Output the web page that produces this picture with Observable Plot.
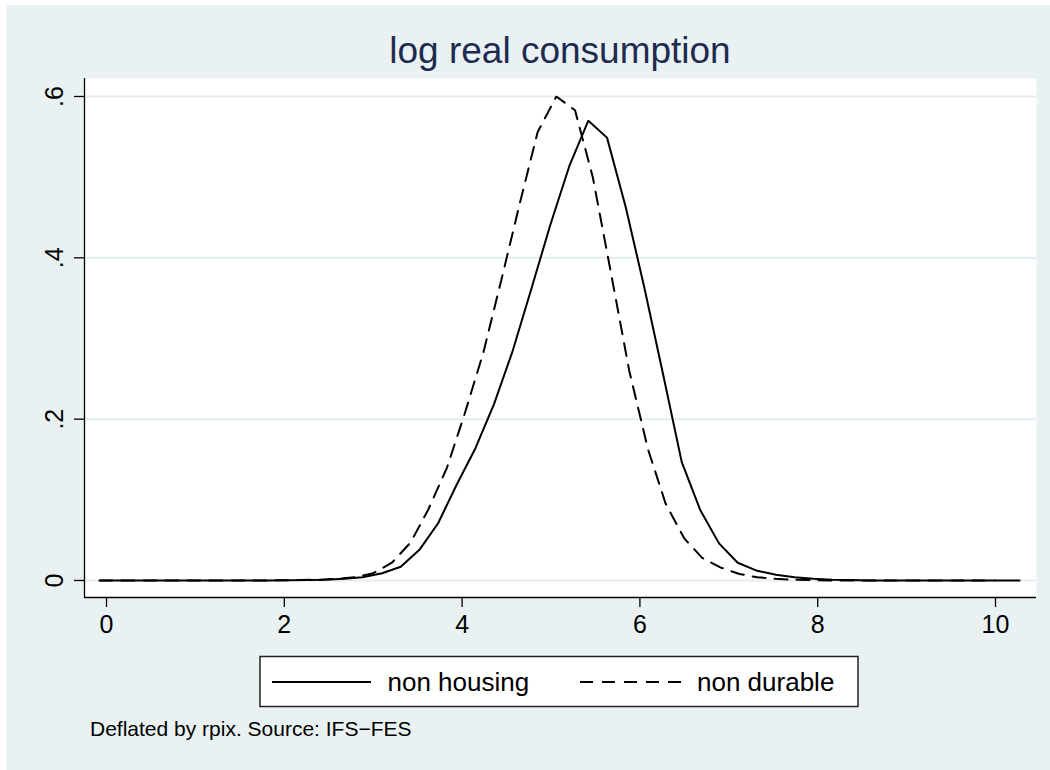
<!DOCTYPE html>
<html><head><meta charset="utf-8">
<script src="https://cdn.jsdelivr.net/npm/d3@7"></script>
<script src="https://cdn.jsdelivr.net/npm/@observablehq/plot@0.6"></script>
<style>
html,body{margin:0;padding:0;background:#fff;}
#page{position:relative;width:1050px;height:770px;overflow:hidden;font-family:"Liberation Sans",Arial,sans-serif;}
#bg{position:absolute;left:6px;top:5px;width:1044px;height:765px;background:#eaf1f3;}
#chart{position:absolute;left:0;top:0;}
#overlay{position:absolute;left:0;top:0;pointer-events:none;}
</style></head><body>
<div id="page"><div id="bg"></div><div id="chart"></div><svg id="overlay" width="1050" height="770"></svg></div>
<script>
// ---- data ----
const titleText = "log real consumption";
const captionText = "Deflated by rpix. Source: IFS\u2212FES";
const seriesNames = ["non housing", "non durable"];

const nonHousingX = [-0.07,0.14,0.35,0.56,0.77,0.99,1.20,1.41,1.62,1.83,2.04,2.25,2.46,2.67,2.88,3.10,3.31,3.52,3.73,3.94,4.15,4.36,4.57,4.78,4.99,5.21,5.42,5.63,5.84,6.05,6.26,6.47,6.68,6.89,7.10,7.32,7.53,7.74,7.95,8.16,8.37,8.58,8.79,9.00,9.22,9.43,9.64,9.85,10.06,10.27];
const nonHousingY = [0,0,0,0,0,0,0,0,0,0,0.0003,0.0006,0.001,0.002,0.004,0.009,0.017,0.038,0.071,0.119,0.164,0.219,0.285,0.362,0.440,0.515,0.570,0.549,0.463,0.363,0.256,0.147,0.087,0.046,0.022,0.012,0.007,0.004,0.002,0.001,0.0005,0,0,0,0,0,0,0,0,0];

const nonDurableX = [-0.08,0.13,0.33,0.54,0.74,0.95,1.15,1.36,1.56,1.77,1.98,2.18,2.39,2.59,2.80,3.00,3.21,3.42,3.62,3.83,4.03,4.24,4.44,4.65,4.85,5.06,5.27,5.47,5.68,5.88,6.09,6.29,6.50,6.70,6.91,7.12,7.32,7.53,7.73,7.94,8.14,8.35,8.56,8.76,8.97,9.17,9.38,9.58,9.79,9.99];
const nonDurableY = [0,0,0,0,0,0,0,0,0,0,0.0003,0.0006,0.001,0.002,0.004,0.009,0.022,0.047,0.088,0.140,0.207,0.283,0.372,0.468,0.556,0.600,0.583,0.500,0.378,0.260,0.163,0.095,0.052,0.028,0.016,0.008,0.004,0.002,0.001,0.0005,0,0,0,0,0,0,0,0,0,0];

const xTicks = [0, 2, 4, 6, 8, 10];
const yTicks = [0, 0.2, 0.4, 0.6];
const yTickLabels = ["0", ".2", ".4", ".6"];
const xDomain = [-0.2475, 10.461];
const yDomain = [-0.0211, 0.6223];

// ---- table ----
const table = [
  ...nonHousingX.map((x, i) => ({series: seriesNames[0], x, y: nonHousingY[i]})),
  ...nonDurableX.map((x, i) => ({series: seriesNames[1], x, y: nonDurableY[i]}))
];

const FONT = "Liberation Sans, Arial, Helvetica, sans-serif";
const DASH = "13,9";

const plot = Plot.plot({
  width: 1050,
  height: 650,
  marginLeft: 84,
  marginRight: 14,
  marginTop: 78,
  marginBottom: 53,
  style: {background: "transparent", fontFamily: FONT, color: "#000", overflow: "visible"},
  x: {domain: xDomain, label: null},
  y: {domain: yDomain, label: null},
  marks: [
    Plot.frame({fill: "white", stroke: null}),
    Plot.gridY(yTicks, {stroke: "#e3ecef", strokeOpacity: 1, strokeWidth: 2}),
    Plot.ruleX([xDomain[0]], {stroke: "#000", strokeWidth: 1.3}),
    Plot.ruleY([yDomain[0]], {stroke: "#000", strokeWidth: 1.3}),
    Plot.axisX(xTicks, {label: null, tickSize: 10, tickPadding: 8, fontSize: 25, stroke: "#000", strokeWidth: 1.3, fill: "#000", tickFormat: d => String(d)}),
    Plot.axisY(yTicks, {label: null, tickSize: 10, tickPadding: 12, tickRotate: -90, fontSize: 25, stroke: "#000", strokeWidth: 1.3, fill: "#000", tickFormat: d => yTickLabels[yTicks.indexOf(d)]}),
    Plot.line(table.filter(d => d.series === seriesNames[0]), {x: "x", y: "y", stroke: "#000", strokeWidth: 2, strokeLinejoin: "miter"}),
    Plot.line(table.filter(d => d.series === seriesNames[1]), {x: "x", y: "y", stroke: "#000", strokeWidth: 2, strokeLinejoin: "miter", strokeDasharray: DASH})
  ]
});
document.getElementById("chart").appendChild(plot);

// ---- title, legend, caption ----
const ov = d3.select("#overlay").style("font-family", FONT);
ov.append("text").attr("x", 560).attr("y", 63).attr("text-anchor", "middle")
  .attr("font-size", 37).attr("fill", "#1e2b50").text(titleText);

const lg = ov.append("g");
lg.append("rect").attr("x", 260).attr("y", 656.5).attr("width", 598).attr("height", 50)
  .attr("fill", "#fff").attr("stroke", "#222").attr("stroke-width", 1.5);
lg.append("line").attr("x1", 272).attr("x2", 371).attr("y1", 682).attr("y2", 682)
  .attr("stroke", "#000").attr("stroke-width", 2);
lg.append("text").attr("x", 387.5).attr("y", 691).attr("font-size", 26).attr("fill", "#000").text(seriesNames[0]);
lg.append("line").attr("x1", 580).attr("x2", 681).attr("y1", 682).attr("y2", 682)
  .attr("stroke", "#000").attr("stroke-width", 2).attr("stroke-dasharray", DASH);
lg.append("text").attr("x", 697).attr("y", 691).attr("font-size", 26).attr("fill", "#000").text(seriesNames[1]);

ov.append("text").attr("x", 90).attr("y", 736).attr("font-size", 21).attr("fill", "#000").text(captionText);
</script>
</body></html>
